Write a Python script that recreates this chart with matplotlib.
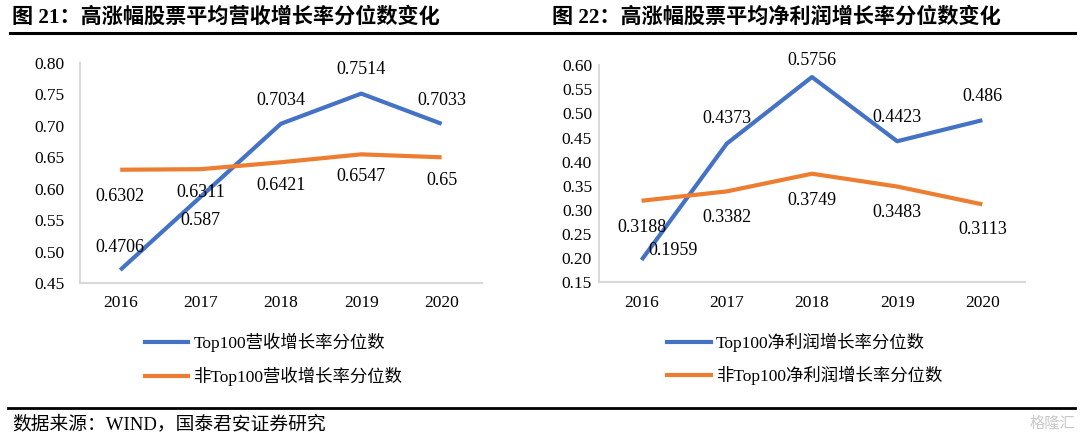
import matplotlib
matplotlib.use("Agg")
import matplotlib.pyplot as plt
from matplotlib.lines import Line2D

plt.rcParams['font.family'] = ['Liberation Serif', 'Noto Sans CJK SC', 'DejaVu Sans']

years = ["2016", "2017", "2018", "2019", "2020"]

# 图21: 营收增长率分位数
rev_top = [0.4706, 0.587, 0.7034, 0.7514, 0.7033]
rev_other = [0.6302, 0.6311, 0.6421, 0.6547, 0.65]
rev_top_labels = ["0.4706", "0.587", "0.7034", "0.7514", "0.7033"]
rev_other_labels = ["0.6302", "0.6311", "0.6421", "0.6547", "0.65"]

# 图22: 净利润增长率分位数
np_top = [0.1959, 0.4373, 0.5756, 0.4423, 0.486]
np_other = [0.3188, 0.3382, 0.3749, 0.3483, 0.3113]
np_top_labels = ["0.1959", "0.4373", "0.5756", "0.4423", "0.486"]
np_other_labels = ["0.3188", "0.3382", "0.3749", "0.3483", "0.3113"]

title1 = "图 21：高涨幅股票平均营收增长率分位数变化"
title2 = "图 22：高涨幅股票平均净利润增长率分位数变化"
legend1 = ["Top100营收增长率分位数", "非Top100营收增长率分位数"]
legend2 = ["Top100净利润增长率分位数", "非Top100净利润增长率分位数"]
source = "数据来源：WIND，国泰君安证券研究"

BLUE = "#4472C4"
ORANGE = "#ED7D31"
GRID = "#D9D9D9"

fig = plt.figure(figsize=(10.8, 4.38), dpi=100)
ax1 = fig.add_axes([0.0741, 0.354, 0.372, 0.502])
ax2 = fig.add_axes([0.5546, 0.356, 0.3944, 0.495])


def style_axis(ax, ylim, yticks, ypad):
    ax.set_xlim(-0.5, len(years) - 0.5)
    ax.set_ylim(*ylim)
    ax.set_yticks(yticks)
    ax.set_yticklabels(["%.2f" % t for t in yticks])
    ax.set_xticks(range(len(years)))
    ax.set_xticklabels(years)
    for s in ["top", "right"]:
        ax.spines[s].set_visible(False)
    for s in ["left", "bottom"]:
        ax.spines[s].set_color(GRID)
        ax.spines[s].set_linewidth(1.5)
    ax.tick_params(axis="y", length=0, labelsize=12.5, pad=ypad)
    ax.tick_params(axis="x", length=0, labelsize=12.5, pad=9)


def label_points(ax, vals, labels, offsets):
    for i, (v, t, off) in enumerate(zip(vals, labels, offsets)):
        ax.annotate(t, (i, v), xytext=off, textcoords="offset points",
                    ha="center", va="center", fontsize=13)


# left chart
x = range(len(years))
ax1.plot(x, rev_top, color=BLUE, lw=3, solid_capstyle="butt")
ax1.plot(x, rev_other, color=ORANGE, lw=3, solid_capstyle="butt")
style_axis(ax1, (0.45, 0.80), [0.45, 0.50, 0.55, 0.60, 0.65, 0.70, 0.75, 0.80], 11)
label_points(ax1, rev_top, rev_top_labels,
             [(0, 16), (0, -17), (0, 17), (0, 17), (0, 17)])
label_points(ax1, rev_other, rev_other_labels,
             [(0, -19), (0, -17), (0, -17), (0, -16), (0, -17)])

# right chart
ax2.plot(x, np_top, color=BLUE, lw=3, solid_capstyle="butt")
ax2.plot(x, np_other, color=ORANGE, lw=3, solid_capstyle="butt")
style_axis(ax2, (0.15, 0.60), [0.15, 0.20, 0.25, 0.30, 0.35, 0.40, 0.45, 0.50, 0.55, 0.60], 5)
label_points(ax2, np_top, np_top_labels,
             [(23, 7), (0, 18), (0, 12), (0, 17), (0, 17)])
label_points(ax2, np_other, np_other_labels,
             [(0, -19), (0, -19), (0, -19), (0, -19), (0, -18)])

# legends
h1 = [Line2D([], [], color=BLUE, lw=3), Line2D([], [], color=ORANGE, lw=3)]
fig.legend(h1, legend1, loc="upper left", bbox_to_anchor=(0.134, 0.24),
           frameon=False, fontsize=12.5, handlelength=2.5, handletextpad=0.3,
           labelspacing=0.85, borderpad=0, borderaxespad=0)
fig.legend(h1, legend2, loc="upper left", bbox_to_anchor=(0.618, 0.24),
           frameon=False, fontsize=12.5, handlelength=2.5, handletextpad=0.3,
           labelspacing=0.8, borderpad=0, borderaxespad=0)

# titles and rules
fig.text(12 / 1080, 1 - 17 / 438, title1, fontsize=15.2, fontweight="bold", va="center")
fig.text(552 / 1080, 1 - 17 / 438, title2, fontsize=15.2, fontweight="bold", va="center")
fig.add_artist(Line2D([10 / 1080, 1075 / 1080], [1 - 33 / 438] * 2, color="black", lw=2.2))
fig.add_artist(Line2D([8 / 1080, 1075 / 1080], [1 - 408 / 438] * 2, color="black", lw=2))
fig.text(12 / 1080, 1 - 424 / 438, source, fontsize=13.5, va="center")
fig.text(1075 / 1080, 1 - 424 / 438, "格隆汇", fontsize=11, va="center", ha="right",
         color="#C8C8C8")

fig.savefig("out.png", dpi=100)
